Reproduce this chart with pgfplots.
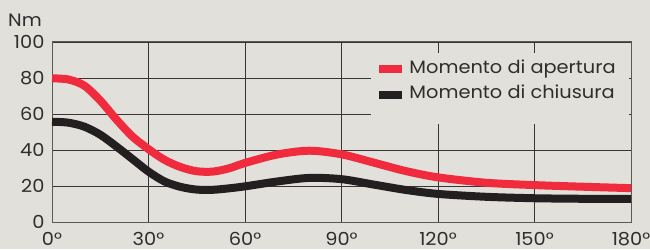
\documentclass[border=0pt]{standalone}
\usepackage{pgfplots}
\pgfplotsset{compat=1.18}
\usepackage{fontspec}
\setmainfont{Poppins}[FakeStretch=1.08]
\definecolor{bgc}{HTML}{E1E0DA}
\definecolor{myred}{HTML}{EF2B3D}
\definecolor{myblack}{HTML}{231F20}
\definecolor{txt}{HTML}{2E2E2E}
\begin{document}
\begin{tikzpicture}[x=1bp,y=1bp]
\useasboundingbox (0,0) rectangle (650,249);
\fill[bgc] (0,0) rectangle (650,249);
\begin{axis}[
  at={(52bp,27bp)}, anchor=south west,
  scale only axis, width=579bp, height=180bp,
  clip=false,
  xmin=0, xmax=180, ymin=0, ymax=100,
  xtick={0,30,60,90,120,150,180},
  xticklabels={0°,30°,60°,90°,120°,150°,180°},
  ytick={0,20,40,60,80,100},
  yticklabels={0,20,40,60,80,100},
  major tick length=0pt,
  grid=major,
  grid style={draw=myblack!90, line width=0.7bp},
  axis line style={draw=black!65, line width=1bp},
  tick label style={font=\fontsize{18}{21}\selectfont, text=txt},
  xticklabel style={yshift=-7bp},
  yticklabel style={xshift=-4bp},
  legend style={at={(axis cs:100.5,90.1)}, anchor=north west, draw=none, fill=none,
    inner sep=0pt, row sep=8.7bp,
    nodes={font=\fontsize{18}{21}\selectfont, text=txt, inner sep=0pt, text height=13bp, text depth=4bp, anchor=base west}},
  legend cell align=left,
  legend image code/.code={\draw[#1, line cap=butt] (0bp,4bp) -- (23bp,4bp);},
  legend columns=1,
]
\fill[bgc] (axis cs:99.2,94) rectangle (axis cs:179.4,54.5);
\addplot[myred, line width=8bp, smooth, line cap=butt] coordinates {
(0,79.8) (5,79.2) (10,75.8) (15,67.5) (20,57) (25,47.5) (30,40.5) (35,34.5)
(40,30.5) (45,28.2) (50,28) (55,29.8) (60,32.8) (70,37.5) (80,39.6) (90,37.6)
(100,33) (110,28.3) (120,24.8) (135,21.8) (150,20.5) (165,19.6) (180,18.8)};
\addlegendentry{\hspace{3bp}Momento di apertura}
\addplot[myblack, line width=8bp, smooth, line cap=butt] coordinates {
(0,55.7) (5,55.2) (10,53) (15,48.5) (20,42) (25,35) (30,28) (35,22.5)
(40,19.5) (45,18) (50,17.9) (55,18.7) (60,19.8) (70,22.5) (80,24.5) (90,23.8)
(100,20.8) (110,17.8) (120,15.6) (135,14) (150,13.2) (165,12.9) (180,12.8)};
\addlegendentry{\hspace{3bp}Momento di chiusura}
\node[anchor=base east, font=\fontsize{18}{21}\selectfont, text=txt, inner sep=0pt]
  at ([xshift=-10bp,yshift=15bp]rel axis cs:0,1) {Nm};
\end{axis}
\end{tikzpicture}
\end{document}
